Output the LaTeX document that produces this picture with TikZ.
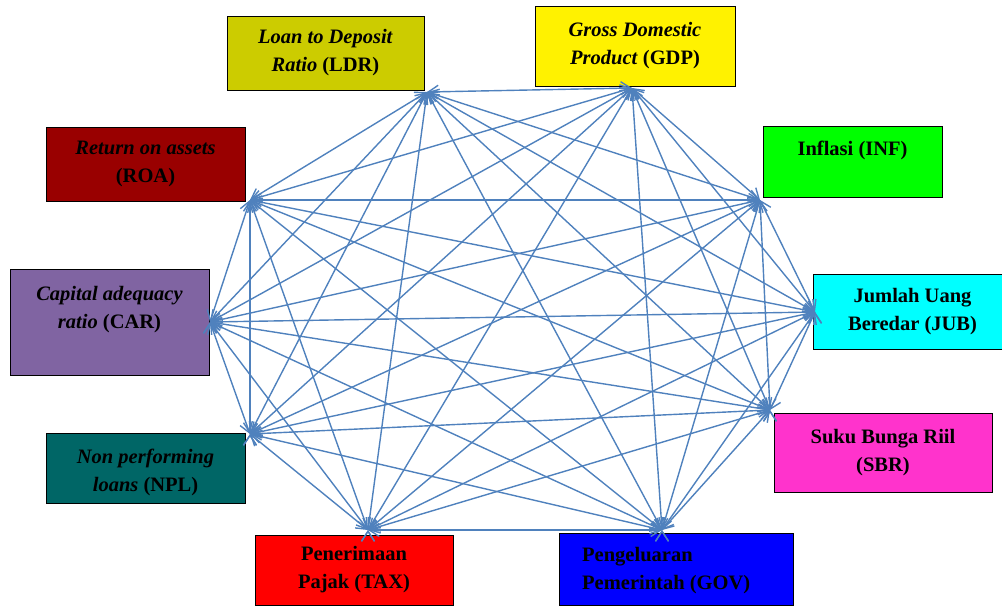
\documentclass[tikz,border=0pt]{standalone}
\usepackage{fontspec}
\setmainfont{Liberation Serif}
\usetikzlibrary{arrows.meta}
\definecolor{linkblue}{HTML}{4F81BD}
\definecolor{ldrcol}{HTML}{CCCC00}
\definecolor{roacol}{HTML}{990000}
\definecolor{carcol}{HTML}{8064A2}
\definecolor{nplcol}{HTML}{006666}
\definecolor{jubcol}{HTML}{00FFFF}
\definecolor{sbrcol}{HTML}{FF33CC}
\tikzset{
  box/.style={draw, line width=1pt, inner sep=0pt, align=center,
    font=\fontsize{20.5}{28}\selectfont\bfseries},
  lbl/.style={inner sep=0pt, font=\fontsize{20.5}{28}\selectfont\bfseries},
  link/.style={draw=linkblue, line width=1.4pt,
    {Straight Barb[length=10pt,width=13pt]}-{Straight Barb[length=10pt,width=13pt]}}
}
\begin{document}
\begin{tikzpicture}[x=1pt,y=-1pt]
\useasboundingbox (0,0) rectangle (1002,606);
% variable boxes
\node[box, fill=ldrcol, minimum width=197, minimum height=74](ldr) at (325.5,53){\textit{Loan to Deposit}\\\textit{Ratio} (LDR)};
\node[box, fill=yellow, minimum width=200, minimum height=80](gdp) at (635,46){\textit{Gross Domestic}\\\textit{Product} (GDP)};
\node[box, fill=green, minimum width=179, minimum height=71](inf) at (852.5,161.5){};
\node[lbl](inf-t) at (852.5,150){Inflasi (INF)};
\node[box, fill=jubcol, minimum width=199, minimum height=75](jub) at (912.5,311.5){Jumlah Uang\\Beredar (JUB)};
\node[box, fill=sbrcol, minimum width=218, minimum height=79](sbr) at (883,452.5){Suku Bunga Riil\\(SBR)};
\node[box, fill=blue, minimum width=234, minimum height=72](gov) at (676,569){};
\node[lbl, align=left, anchor=west](gov-t) at (582,571){Pengeluaran\\Pemerintah (GOV)};
\node[box, fill=red, minimum width=198, minimum height=70](tax) at (354,570){Penerimaan\\Pajak (TAX)};
\node[box, fill=nplcol, minimum width=199, minimum height=70](npl) at (145.5,468){};
\node[lbl, align=center](npl-t) at (145.5,472){\textit{Non performing}\\\textit{loans} (NPL)};
\node[box, fill=carcol, minimum width=199, minimum height=106](car) at (109.5,322){};
\node[lbl, align=center](car-t) at (109.5,310){\textit{Capital adequacy}\\\textit{ratio} (CAR)};
\node[box, fill=roacol, minimum width=199, minimum height=74](roa) at (145.5,164){\textit{Return on assets}\\(ROA)};
% meeting points of the arrows
\coordinate (ldr-h) at (427,92);
\coordinate (gdp-h) at (632,88);
\coordinate (inf-h) at (760,200);
\coordinate (jub-h) at (815,312);
\coordinate (sbr-h) at (770,410);
\coordinate (gov-h) at (662,530);
\coordinate (tax-h) at (368,530);
\coordinate (npl-h) at (250,434);
\coordinate (car-h) at (210,322);
\coordinate (roa-h) at (250,200);
% every variable linked to every other
\path[link] (ldr-h) edge (gdp-h) edge (inf-h) edge (jub-h) edge (sbr-h) edge (gov-h) edge (tax-h) edge (npl-h) edge (car-h) edge (roa-h);
\path[link] (gdp-h) edge (inf-h) edge (jub-h) edge (sbr-h) edge (gov-h) edge (tax-h) edge (npl-h) edge (car-h) edge (roa-h);
\path[link] (inf-h) edge (jub-h) edge (sbr-h) edge (gov-h) edge (tax-h) edge (npl-h) edge (car-h) edge (roa-h);
\path[link] (jub-h) edge (sbr-h) edge (gov-h) edge (tax-h) edge (npl-h) edge (car-h) edge (roa-h);
\path[link] (sbr-h) edge (gov-h) edge (tax-h) edge (npl-h) edge (car-h) edge (roa-h);
\path[link] (gov-h) edge (tax-h) edge (npl-h) edge (car-h) edge (roa-h);
\path[link] (tax-h) edge (npl-h) edge (car-h) edge (roa-h);
\path[link] (npl-h) edge (car-h) edge (roa-h);
\path[link] (car-h) edge (roa-h);
\end{tikzpicture}
\end{document}
